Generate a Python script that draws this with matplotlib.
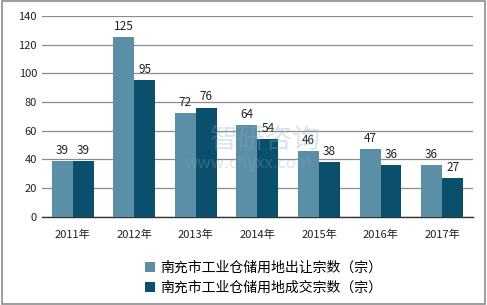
import matplotlib
matplotlib.use("Agg")
import matplotlib.pyplot as plt
import numpy as np
from matplotlib.patches import Rectangle

plt.rcParams['font.family'] = ['Noto Sans CJK SC', 'DejaVu Sans']

# Data
years = ["2011年", "2012年", "2013年", "2014年", "2015年", "2016年", "2017年"]
transferred = [39, 125, 72, 64, 46, 47, 36]
traded = [39, 95, 76, 54, 38, 36, 27]
labels = ["南充市工业仓储用地出让宗数（宗）", "南充市工业仓储用地成交宗数（宗）"]

light = "#5b8fa8"
dark = "#0a4f6b"

fig = plt.figure(figsize=(4.87, 3.05), dpi=100)
ax = fig.add_axes([0.086, 0.289, 0.885, 0.659])

x = np.arange(len(years))
w = 0.34
b1 = ax.bar(x - w / 2, transferred, w, color=light, label=labels[0], zorder=3)
b2 = ax.bar(x + w / 2, traded, w, color=dark, label=labels[1], zorder=3)

for bars, vals in ((b1, transferred), (b2, traded)):
    for r, v in zip(bars, vals):
        ax.text(r.get_x() + r.get_width() / 2, v + 3, str(v), ha="center", va="bottom",
                fontsize=8.5, color="#222222", zorder=4)

ax.set_ylim(0, 140)
ax.set_xlim(-0.5, len(years) - 0.5)
ax.set_yticks(range(0, 141, 20))
ax.set_xticks(x)
ax.set_xticklabels(years)
ax.tick_params(axis="both", length=0, labelsize=8, colors="#222222")
ax.tick_params(axis="x", pad=9)
ax.yaxis.grid(True, color="#8c8c8c", linewidth=0.9, zorder=0)
for s in ["top", "right", "left"]:
    ax.spines[s].set_visible(False)
ax.spines["bottom"].set_color("#333333")
ax.spines["bottom"].set_linewidth(1.0)

# watermark (faint, as in the reference)
fig.text(0.545, 0.54, "智研咨询", fontsize=20, color="#8aa7bd", alpha=0.3,
         ha="center", va="center", zorder=5)
fig.text(0.51, 0.465, "www.chyxx.com", fontsize=12, color="#8aa7bd", alpha=0.3,
         ha="center", va="center", zorder=5)

fig.legend(handles=[b1, b2], labels=labels, loc="upper left", bbox_to_anchor=(0.283, 0.168),
           frameon=False, fontsize=10, handlelength=0.75, handleheight=0.75,
           handletextpad=0.35, labelspacing=0.45, borderpad=0)

fig.patches.append(Rectangle((0.004, 0.004), 0.992, 0.992, transform=fig.transFigure,
                             fill=False, edgecolor="#8c8c8c", linewidth=1.2))

fig.savefig("out.png", dpi=100)
